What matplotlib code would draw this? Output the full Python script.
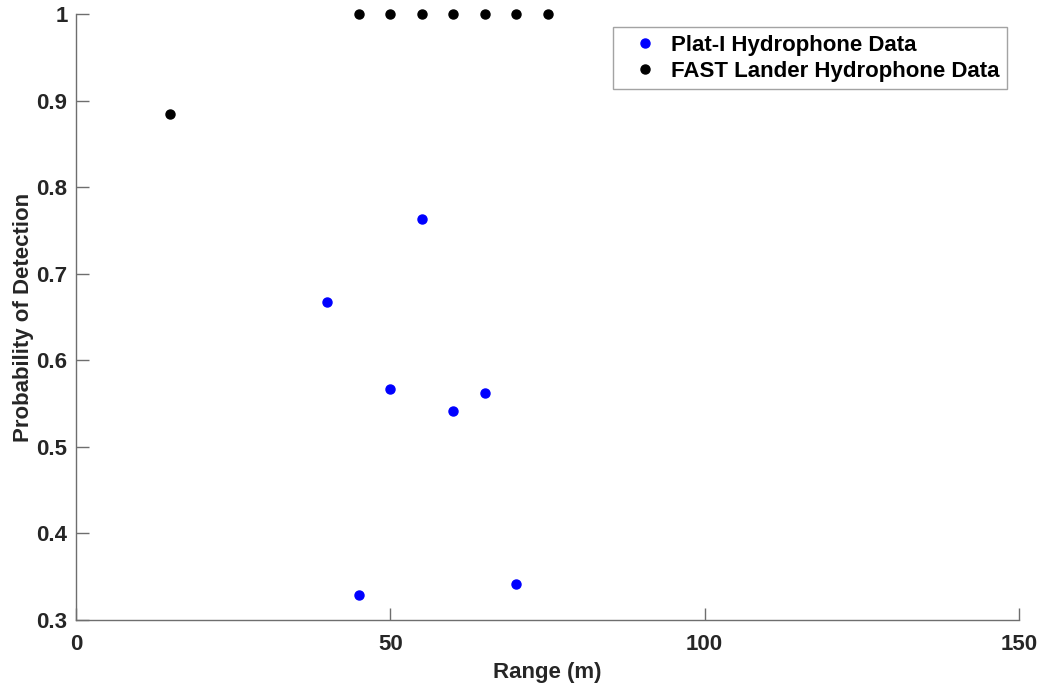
import matplotlib
matplotlib.use("Agg")
import matplotlib.pyplot as plt

# Plat-I hydrophone detections
plat_range = [40, 45, 50, 55, 60, 65, 70]
plat_pd = [0.667, 0.329, 0.567, 0.763, 0.542, 0.562, 0.342]

# FAST lander hydrophone detections
fast_range = [15, 45, 50, 55, 60, 65, 70, 75]
fast_pd = [0.885, 1.0, 1.0, 1.0, 1.0, 1.0, 1.0, 1.0]

plt.rcParams["font.family"] = ["Liberation Sans", "DejaVu Sans"]
plt.rcParams["font.weight"] = "bold"

TEXT = "#262626"
AXIS = "#6e6e6e"
FS = 16

fig = plt.figure(figsize=(10.39, 6.87), dpi=100)
ax = fig.add_axes([0.0731, 0.0975, 0.9077, 0.8821])

ax.plot(plat_range, plat_pd, linestyle="none", marker="o", markersize=6.5,
        color="#0000ff", label="Plat-I Hydrophone Data", clip_on=False)
ax.plot(fast_range, fast_pd, linestyle="none", marker="o", markersize=6.5,
        color="black", label="FAST Lander Hydrophone Data", clip_on=False)

ax.set_xlim(0, 150)
ax.set_ylim(0.3, 1.0)
ax.set_xticks([0, 50, 100, 150])
ax.set_yticks([0.3, 0.4, 0.5, 0.6, 0.7, 0.8, 0.9, 1.0])
ax.set_yticklabels(["0.3", "0.4", "0.5", "0.6", "0.7", "0.8", "0.9", "1"])

for side in ("top", "right"):
    ax.spines[side].set_visible(False)
for side in ("left", "bottom"):
    ax.spines[side].set_color(AXIS)
    ax.spines[side].set_linewidth(1.0)

ax.tick_params(direction="in", length=9, width=1.0, color=AXIS,
               labelsize=FS, labelcolor=TEXT)
ax.tick_params(axis="x", pad=10)
ax.tick_params(axis="y", pad=6)
for lbl in ax.get_xticklabels() + ax.get_yticklabels():
    lbl.set_fontweight("bold")

ax.set_xlabel("Range (m)", fontsize=FS, fontweight="bold", color=TEXT, labelpad=5)
ax.set_ylabel("Probability of Detection", fontsize=FS, fontweight="bold",
              color=TEXT, labelpad=2)

leg = ax.legend(loc="upper right", bbox_to_anchor=(0.9873, 0.9785), fontsize=FS,
                frameon=True, fancybox=False, borderpad=0.35, borderaxespad=0,
                handletextpad=0.1, handlelength=2.16, labelspacing=0.22)
leg.get_frame().set_edgecolor("#8c8c8c")
leg.get_frame().set_linewidth(1.0)
for t in leg.get_texts():
    t.set_color("black")
    t.set_fontweight("bold")

fig.savefig("out.png", dpi=100)
